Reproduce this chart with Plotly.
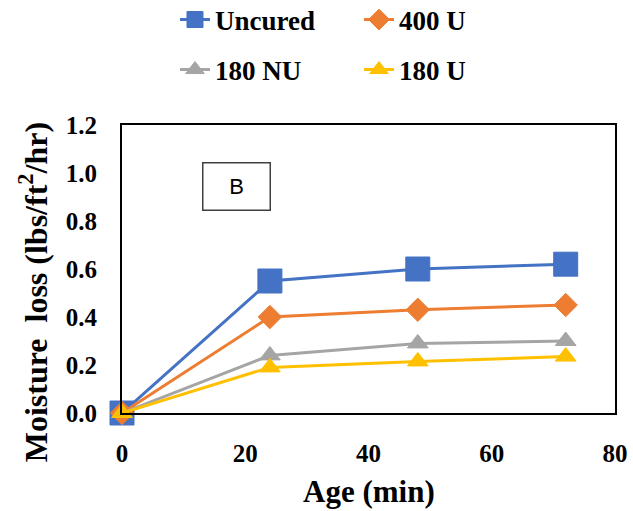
import plotly.graph_objects as go

age = [0, 24, 48, 72]
uncured = [0.0, 0.55, 0.60, 0.62]
u400 = [0.0, 0.40, 0.43, 0.45]
nu180 = [0.0, 0.24, 0.29, 0.30]
u180 = [0.0, 0.19, 0.215, 0.235]

x_ticks = [0, 20, 40, 60, 80]
y_ticks = [0, 0.2, 0.4, 0.6, 0.8, 1.0, 1.2]

series = [
    ("Uncured", uncured, "#4472C4", "square", 24, "legend"),
    ("400 U", u400, "#ED7D31", "diamond", 18, "legend"),
    ("180 NU", nu180, "#A5A5A5", "triangle-up", 18, "legend2"),
    ("180 U", u180, "#FFC000", "triangle-up", 18, "legend2"),
]

serif = "Liberation Serif"
fig = go.Figure()
for name, vals, col, sym, sz, leg in series:
    fig.add_trace(go.Scatter(
        x=age, y=vals, name=name, mode="lines+markers",
        line=dict(color=col, width=3),
        marker=dict(symbol=sym, size=sz, color=col, line=dict(color=col, width=1)),
        cliponaxis=False, legend=leg,
    ))

legfont = dict(family=serif, size=27, color="black", weight="bold")
tickfont = dict(family=serif, size=25, color="black", weight="bold")
fig.update_layout(
    width=633, height=511,
    margin=dict(l=122, r=18, t=125, b=98, autoexpand=False),
    paper_bgcolor="white", plot_bgcolor="white",
    showlegend=True,
    legend=dict(orientation="h", x=0.1075, xanchor="left", y=1.3646, yanchor="middle",
                font=legfont, entrywidth=139, entrywidthmode="pixels",
                bgcolor="rgba(0,0,0,0)"),
    legend2=dict(orientation="h", x=0.1075, xanchor="left", y=1.191, yanchor="middle",
                 font=legfont, entrywidth=139, entrywidthmode="pixels",
                 bgcolor="rgba(0,0,0,0)"),
    xaxis=dict(range=[0, 80], tickvals=x_ticks, showgrid=False, zeroline=False,
               showline=True, mirror=True, linecolor="black", linewidth=2, ticks="",
               tickfont=tickfont, ticklabelstandoff=17, automargin=False),
    yaxis=dict(range=[0, 1.2], tickvals=y_ticks, tickformat=".1f",
               showgrid=False, zeroline=False,
               showline=True, mirror=True, linecolor="black", linewidth=2, ticks="",
               tickfont=tickfont, ticklabelstandoff=18, automargin=False),
    annotations=[
        dict(text="B", xref="paper", yref="paper", x=0.232, y=0.786,
             showarrow=False, font=dict(family="Liberation Sans", size=22, color="black"),
             width=64, height=44, bordercolor="#404040", borderwidth=1.5,
             xanchor="center", yanchor="middle"),
        dict(text="<b>Age (min)</b>", xref="paper", yref="paper", x=0.5, y=-0.274,
             showarrow=False, font=dict(family=serif, size=31, color="black"),
             xanchor="center", yanchor="middle"),
        dict(text="<b>Moisture  loss (lbs/ft<sup>2</sup>/hr)</b>", xref="paper", yref="paper",
             x=-0.18, y=0.42, textangle=-90,
             showarrow=False, font=dict(family=serif, size=32, color="black"),
             xanchor="center", yanchor="middle"),
    ],
)
fig.write_html("out.html", config={"displayModeBar": False},
               post_script="document.body.style.margin='0';")
